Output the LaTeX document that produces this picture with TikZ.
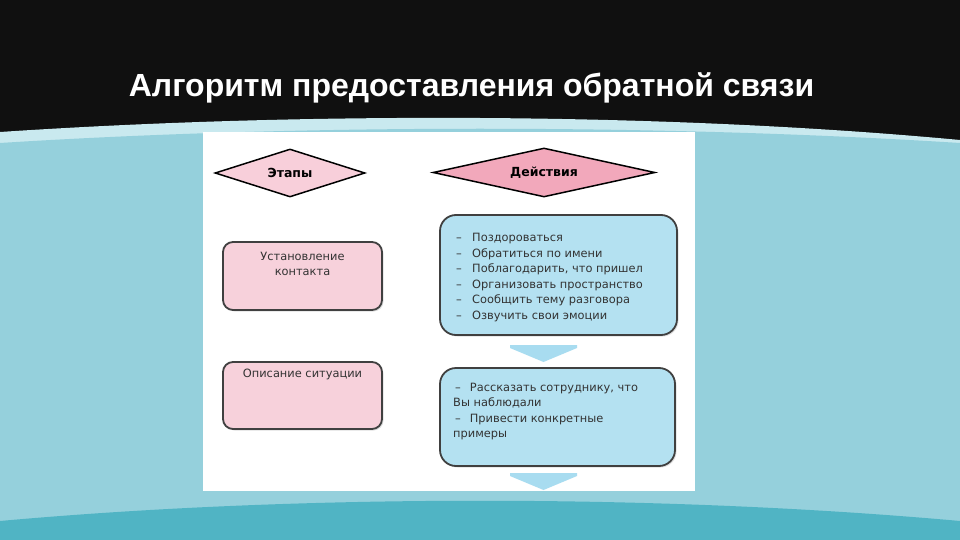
\documentclass[tikz,border=0pt]{standalone}
\usepackage{fontspec}
\setmainfont{Liberation Sans}
\newfontfamily\boxfont{DejaVu Sans}
\usepackage{xcolor}
\usetikzlibrary{positioning}
\usetikzlibrary{shapes.geometric}
\usetikzlibrary{shadows}

\definecolor{titlebg}{HTML}{101010}
\definecolor{bandlight}{HTML}{C9E9EF}
\definecolor{bgblue}{HTML}{95D0DC}
\definecolor{bgteal}{HTML}{50B4C4}
\definecolor{stagepink}{HTML}{F7D1DB}
\definecolor{headpink}{HTML}{F8CFDA}
\definecolor{actpink}{HTML}{F2A8BB}
\definecolor{actblue}{HTML}{B4E1F1}
\definecolor{arrowblue}{HTML}{A8DCF0}
\definecolor{boxtext}{HTML}{333333}

\tikzset{
  headdiamond/.style={diamond, aspect=4.5, draw=black, line width=1.5pt, inner sep=0pt,
    font=\boxfont\bfseries\fontsize{12.5}{14}\selectfont, text=black},
  stagebox/.style={draw=black!75, line width=1.8pt, rounded corners=10pt,
    fill=stagepink, drop shadow={opacity=0.25, shadow xshift=1.5pt, shadow yshift=-1.5pt}},
  actbox/.style={draw=black!75, line width=1.8pt, rounded corners=16pt,
    fill=actblue, drop shadow={opacity=0.25, shadow xshift=1.5pt, shadow yshift=-1.5pt}},
  boxtxt/.style={inner sep=0pt, text=boxtext,
    font=\boxfont\fontsize{11.4}{15.6}\selectfont},
  downarrow/.style={fill=arrowblue}
}

\newcommand{\dashitem}{\makebox[17pt][l]{\hspace{1pt}–}}

\begin{document}
\begin{tikzpicture}[x=1pt,y=-1pt]
\useasboundingbox (0,0) rectangle (960,540);

% background
\fill[titlebg] (0,0) rectangle (960,540);
\fill[bandlight] (0,132) .. controls (300,112) and (660,112) .. (960,140) -- (960,540) -- (0,540) -- cycle;
\fill[bgblue] (0,143) .. controls (300,124) and (660,124) .. (960,143) -- (960,540) -- (0,540) -- cycle;
\fill[bgteal] (0,521) .. controls (300,494) and (660,494) .. (960,521) -- (960,540) -- (0,540) -- cycle;
\fill[white] (203,132) rectangle (695,491);

\node[anchor=base, text=white, font=\bfseries\fontsize{32}{38}\selectfont] (title) at (471.5,97)
  {Алгоритм предоставления обратной связи};

% headers
\node[headdiamond, fill=headpink, minimum width=150pt, minimum height=48pt] (stages) at (290,173) {Этапы};
\node[headdiamond, fill=actpink, minimum width=222pt, minimum height=49pt] (actions) at (544,172.5) {Действия};

% stages
\node[stagebox, minimum width=159pt, minimum height=68pt] (stage1) at (302.5,276) {};
\node[stagebox, minimum width=159pt, minimum height=67pt] (stage2) at (302.5,395.5) {};

\node[boxtxt, align=center, anchor=north] (stage1txt) at ([yshift=-10.5pt]stage1.north)
  {Установление\\контакта};
\node[boxtxt, anchor=north] (stage2txt) at ([yshift=-8pt]stage2.north) {Описание ситуации};

% actions
\node[actbox, minimum width=237pt, minimum height=120pt] (act1) at (558.5,275) {};
\node[actbox, minimum width=235pt, minimum height=98pt] (act2) at (557.5,417) {};

\node[boxtxt, align=left, anchor=north west] (act1txt) at (455,233)
  {\dashitem Поздороваться\\
   \dashitem Обратиться по имени\\
   \dashitem Поблагодарить, что пришел\\
   \dashitem Организовать пространство\\
   \dashitem Сообщить тему разговора\\
   \dashitem Озвучить свои эмоции};

\node[boxtxt, align=left, anchor=north west] (act2txt) at (453,382.5)
  {\hspace{2pt}–\hspace{9pt}Рассказать сотруднику, что\\
   Вы наблюдали\\
   \hspace{2pt}–\hspace{9pt}Привести конкретные\\
   примеры};

% arrows
\coordinate (arr1) at (543.5,345);
\coordinate (arr2) at (543.5,473);
\fill[downarrow] (arr1) ++(-33.5,0) -- ++(67,0) -- ++(0,3) -- ++(-33.5,14) -- ++(-33.5,-14) -- cycle;
\fill[downarrow] (arr2) ++(-33.5,0) -- ++(67,0) -- ++(0,3) -- ++(-33.5,14) -- ++(-33.5,-14) -- cycle;
\end{tikzpicture}
\end{document}
